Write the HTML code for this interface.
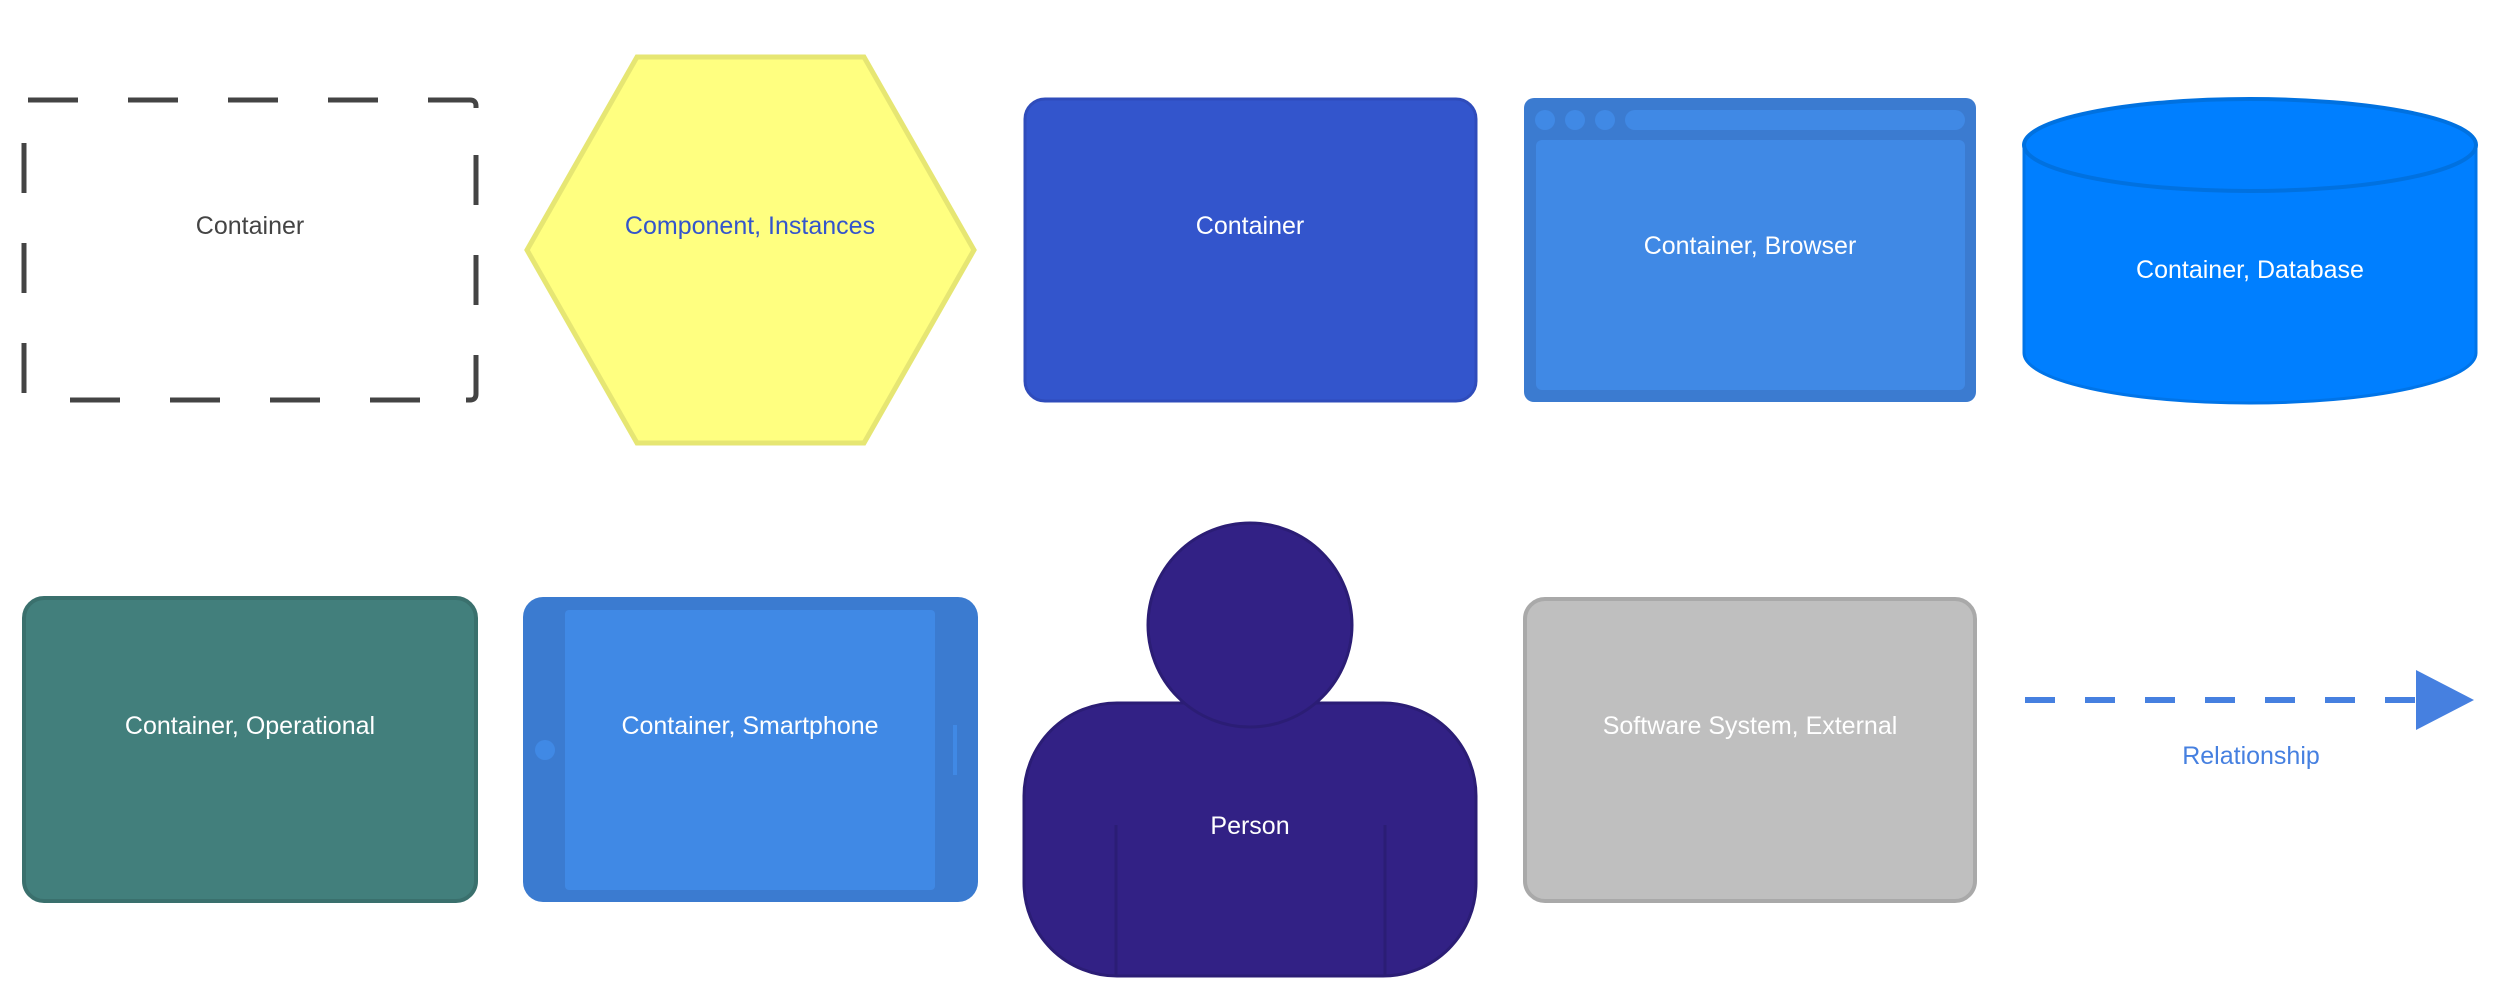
<!DOCTYPE html>
<html><head><meta charset="utf-8"><style>
html,body{margin:0;padding:0;background:#fff;}
svg{display:block;}
text{font-family:"Liberation Sans",sans-serif;font-size:25px;text-anchor:middle;}
</style></head><body>
<svg width="2500" height="1000" viewBox="0 0 2500 1000" xmlns="http://www.w3.org/2000/svg">
<!-- dashed container -->
<g fill="none" stroke="#444" stroke-width="5">
<line x1="28" y1="100" x2="78" y2="100"/>
<line x1="128" y1="100" x2="178" y2="100"/>
<line x1="228" y1="100" x2="278" y2="100"/>
<line x1="328" y1="100" x2="378" y2="100"/>
<path d="M428,100 L470,100 Q476,100 476,106 L476,108"/>
<line x1="476" y1="155" x2="476" y2="205"/>
<line x1="476" y1="255" x2="476" y2="305"/>
<path d="M476,355 L476,394 Q476,400 470,400 L466,400"/>
<line x1="70" y1="400" x2="120" y2="400"/>
<line x1="170" y1="400" x2="220" y2="400"/>
<line x1="270" y1="400" x2="320" y2="400"/>
<line x1="370" y1="400" x2="420" y2="400"/>
<line x1="24" y1="143" x2="24" y2="193"/>
<line x1="24" y1="243" x2="24" y2="293"/>
<line x1="24" y1="343" x2="24" y2="393"/>
</g>
<text x="250" y="234" fill="#444">Container</text>
<!-- hexagon -->
<polygon points="637,57 864,57 974,250 864,443 637,443 527,250" fill="#ffff80" stroke="#e6e673" stroke-width="5"/>
<text x="750" y="234" fill="#3355cc">Component, Instances</text>
<!-- container blue -->
<rect x="1025" y="99" width="451" height="302" rx="20" fill="#3355cc" stroke="#2f4cbb" stroke-width="3"/>
<text x="1250" y="234" fill="#fff">Container</text>
<!-- browser -->
<rect x="1524" y="98" width="452" height="304" rx="10" fill="#3b7bd0"/>
<ellipse cx="1545" cy="120" rx="10" ry="10" fill="#4089e5"/>
<ellipse cx="1575" cy="120" rx="10" ry="10" fill="#4089e5"/>
<ellipse cx="1605" cy="120" rx="10" ry="10" fill="#4089e5"/>
<rect x="1625" y="110" width="340" height="20" rx="10" fill="#4089e5"/>
<rect x="1536" y="140" width="429" height="250" rx="6" fill="#4089e5"/>
<text x="1750" y="254" fill="#fff">Container, Browser</text>
<!-- database -->
<path d="M2024,145 L2024,353 A226,50 0 0 0 2476,353 L2476,145 Z" fill="#007fff" stroke="#0074e8" stroke-width="3"/>
<ellipse cx="2250" cy="145" rx="226" ry="46" fill="#007fff" stroke="#0071e0" stroke-width="4"/>
<text x="2250" y="278" fill="#fff">Container, Database</text>
<!-- operational -->
<rect x="24" y="598" width="452" height="303" rx="20" fill="#427f7c" stroke="#3a706d" stroke-width="4"/>
<text x="250" y="734" fill="#fff">Container, Operational</text>
<!-- smartphone -->
<rect x="523" y="597" width="455" height="305" rx="20" fill="#3b7bd0"/>
<rect x="565" y="610" width="370" height="280" rx="4" fill="#4089e5"/>
<ellipse cx="545" cy="750" rx="10" ry="10" fill="#4089e5"/>
<rect x="953" y="725" width="4" height="50" fill="#4089e5"/>
<text x="750" y="734" fill="#fff">Container, Smartphone</text>
<!-- person -->
<rect x="1024" y="703" width="452" height="273" rx="93" fill="#322185" stroke="#2b1d75" stroke-width="3"/>
<line x1="1116" y1="825" x2="1116" y2="976" stroke="#2b1d75" stroke-width="3"/>
<line x1="1385" y1="825" x2="1385" y2="976" stroke="#2b1d75" stroke-width="3"/>
<circle cx="1250" cy="625" r="102" fill="#322185" stroke="#2b1d75" stroke-width="3"/>
<text x="1250" y="834" fill="#fff">Person</text>
<!-- external -->
<rect x="1525" y="599" width="450" height="302" rx="20" fill="#bfbfbf" stroke="#a9a9a9" stroke-width="4"/>
<text x="1750" y="734" fill="#fff">Software System, External</text>
<!-- relationship -->
<line x1="2025" y1="700" x2="2418" y2="700" stroke="#4680e0" stroke-width="6" stroke-dasharray="30 30"/>
<polygon points="2416,670 2474,700 2416,730" fill="#4680e0"/>
<text x="2251" y="764" fill="#4680e0">Relationship</text>
</svg>
</body></html>
